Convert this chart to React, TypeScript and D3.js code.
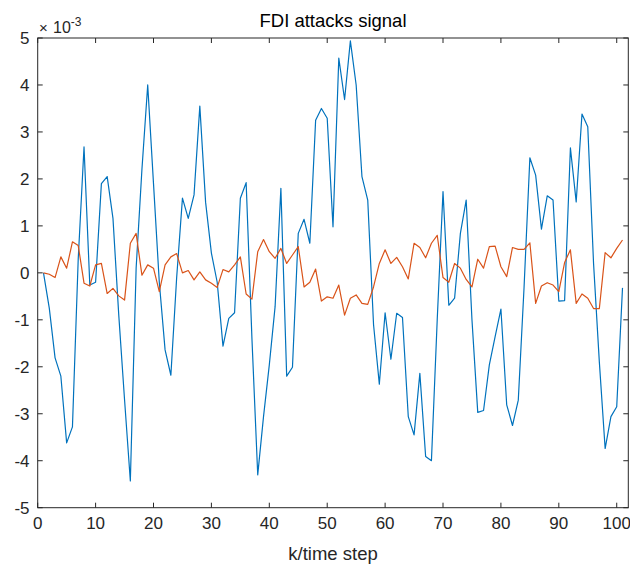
import React from "react";
import * as d3 from "d3";

// values in units of 1e-3
const blueSeries = [
  0, -0.75, -1.81, -2.2, -3.62, -3.28, 0.3, 2.68, -0.26, -0.2,
  1.9, 2.05, 1.16, -0.9, -2.7, -4.43, 0.1, 2.2, 4.0, 1.9,
  -0.2, -1.64, -2.18, -0.1, 1.59, 1.16, 1.66, 3.55, 1.5, 0.42,
  -0.2, -1.56, -0.97, -0.85, 1.59, 1.92, -1.4, -4.3, -3.06, -1.96,
  -0.72, 1.8, -2.2, -2.01, 0.84, 1.14, 0.63, 3.25, 3.5, 3.29,
  0.98, 4.57, 3.69, 4.94, 4.0, 2.05, 1.55, -1.1, -2.37, -0.85,
  -1.84, -0.86, -0.95, -3.06, -3.45, -2.14, -3.91, -4.0, -1.0, 1.73,
  -0.69, -0.54, 0.84, 1.55, -1.0, -2.97, -2.93, -1.96, -1.36, -0.77,
  -2.81, -3.25, -2.71, -0.3, 2.45, 2.08, 0.93, 1.64, 1.55, -0.6,
  -0.59, 2.66, 1.51, 3.38, 3.11, 0.2, -1.9, -3.74, -3.06, -2.85,
  -0.32,
];

const orangeSeries = [
  0, -0.03, -0.1, 0.34, 0.1, 0.66, 0.58, -0.22, -0.28, 0.17,
  0.2, -0.44, -0.33, -0.49, -0.58, 0.63, 0.84, -0.05, 0.17, 0.1,
  -0.4, 0.17, 0.34, 0.41, 0.0, 0.05, -0.15, 0.02, -0.15, -0.22,
  -0.31, 0.07, 0.02, 0.17, 0.34, -0.45, -0.56, 0.45, 0.71, 0.45,
  0.31, 0.52, 0.2, 0.38, 0.56, -0.3, -0.2, 0.08, -0.6, -0.51,
  -0.54, -0.26, -0.9, -0.54, -0.47, -0.65, -0.67, -0.3, 0.2, 0.49,
  0.2, 0.33, 0.13, -0.13, 0.63, 0.54, 0.32, 0.63, 0.8, -0.1,
  -0.2, 0.2, 0.1, -0.14, -0.3, 0.29, 0.1, 0.56, 0.57, 0.13,
  -0.08, 0.54, 0.5, 0.5, 0.64, -0.65, -0.28, -0.21, -0.26, -0.4,
  0.22, 0.49, -0.65, -0.45, -0.54, -0.76, -0.76, 0.43, 0.32, 0.52,
  0.7,
];

const xTicks = [0, 10, 20, 30, 40, 50, 60, 70, 80, 90, 100];
const yTicks = [-5, -4, -3, -2, -1, 0, 1, 2, 3, 4, 5];

const W = 630;
const H = 564;
const FONT = "'Liberation Sans', Arial, Helvetica, sans-serif";
const AX = "#262626";

export default function App() {
  const x = d3.scaleLinear().domain([0, 102]).range([37.7, 628.3]);
  const y = d3.scaleLinear().domain([-5, 5]).range([507.7, 38]);
  const line = d3
    .line<number>()
    .x((_, i) => x(i + 1))
    .y((d) => y(d));

  const x0 = x(0), x1 = x(102), y0 = y(-5), y1 = y(5);
  const tl = 5;

  return (
    <svg
      width={W}
      height={H}
      style={{ position: "absolute", left: 0, top: 0, display: "block", background: "#fff" }}
    >
      <rect x={0} y={0} width={W} height={H} fill="#fff" />
      <defs>
        <clipPath id="plotclip">
          <rect x={x0} y={y1} width={x1 - x0} height={y0 - y1} />
        </clipPath>
      </defs>
      <g clipPath="url(#plotclip)">
        <path d={line(blueSeries) || ""} fill="none" stroke="#0072BD" strokeWidth={1.2} strokeLinejoin="round" />
        <path d={line(orangeSeries) || ""} fill="none" stroke="#D95319" strokeWidth={1.2} strokeLinejoin="round" />
      </g>
      {/* box */}
      <rect x={x0} y={y1} width={x1 - x0} height={y0 - y1} fill="none" stroke={AX} strokeWidth={1} />
      {/* x ticks */}
      {xTicks.map((t) => (
        <g key={"x" + t}>
          <line x1={x(t)} x2={x(t)} y1={y0} y2={y0 - tl} stroke={AX} strokeWidth={1} />
          <line x1={x(t)} x2={x(t)} y1={y1} y2={y1 + tl} stroke={AX} strokeWidth={1} />
          <text x={x(t)} y={529} textAnchor="middle" fontFamily={FONT} fontSize={17} fill={AX}>
            {t}
          </text>
        </g>
      ))}
      {/* y ticks */}
      {yTicks.map((t) => (
        <g key={"y" + t}>
          <line x1={x0} x2={x0 + tl} y1={y(t)} y2={y(t)} stroke={AX} strokeWidth={1} />
          <line x1={x1} x2={x1 - tl} y1={y(t)} y2={y(t)} stroke={AX} strokeWidth={1} />
          <text x={29.5} y={y(t) + 6} textAnchor="end" fontFamily={FONT} fontSize={17} fill={AX}>
            {t}
          </text>
        </g>
      ))}
      {/* exponent */}
      <text x={39} y={33} fontFamily={FONT} fontSize={15} fill={AX}>×</text>
      <text x={53} y={33} fontFamily={FONT} fontSize={16} fill={AX}>
        <tspan>10</tspan>
        <tspan dy={-7} fontSize={12}>-3</tspan>
      </text>
      {/* title */}
      <text x={(x0 + x1) / 2} y={27} textAnchor="middle" fontFamily={FONT} fontSize={18.5} fill="#000">
        FDI attacks signal
      </text>
      {/* x label */}
      <text x={(x0 + x1) / 2} y={560} textAnchor="middle" fontFamily={FONT} fontSize={18.5} fill={AX}>
        k/time step
      </text>
    </svg>
  );
}
